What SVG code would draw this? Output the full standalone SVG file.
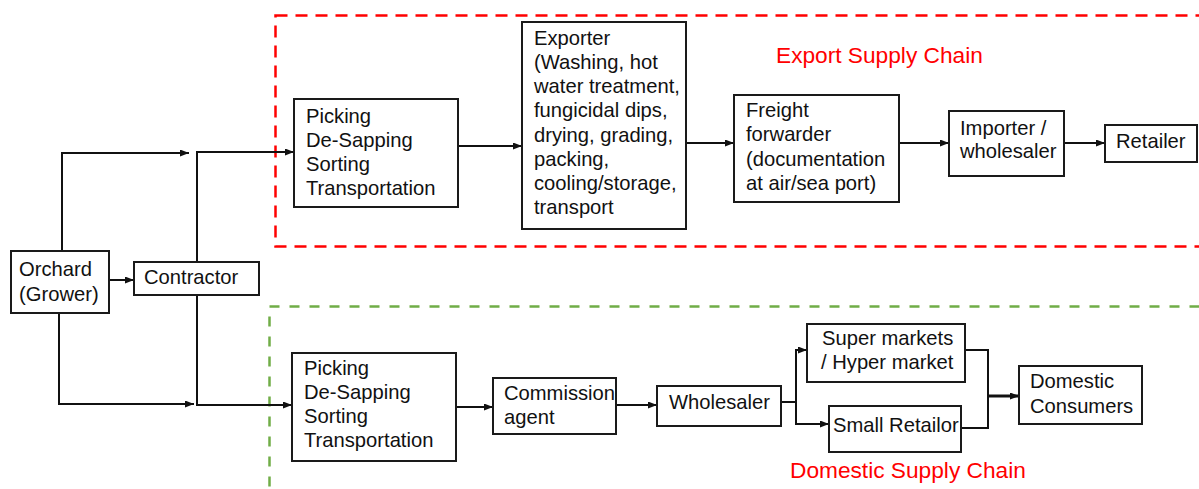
<svg xmlns="http://www.w3.org/2000/svg" width="1199" height="489" viewBox="0 0 1199 489">
  <defs>
    <style>
      .box { fill: #ffffff; stroke: #1a1a1a; stroke-width: 2; }
      .lbl { font-family: "Liberation Sans", Arial, sans-serif; font-size: 20.2px; fill: #111111; }
      .chain { font-family: "Liberation Sans", Arial, sans-serif; font-size: 22.7px; fill: #ff0000; }
      .wire { fill: none; stroke: #111111; stroke-width: 2; }
      .arrow { fill: none; stroke: #111111; stroke-width: 2; marker-end: url(#head); }
      .zone-export { fill: none; stroke: #ff0000; stroke-width: 2.5; stroke-dasharray: 12 8; }
      .zone-domestic { fill: none; stroke: #70ad47; stroke-width: 2.5; stroke-dasharray: 10 10; }
    </style>
    <marker id="head" markerUnits="userSpaceOnUse" markerWidth="9" markerHeight="7" refX="9" refY="3.5" orient="auto">
      <path d="M0,0 L9,3.5 L0,7 z" fill="#111111"/>
    </marker>
  </defs>

  <rect width="1199" height="489" fill="#ffffff"/>

  <!-- supply chain zones -->
  <g id="zones">
    <rect class="zone-export" x="275.5" y="15.5" width="960" height="231"/>
    <rect class="zone-domestic" x="269.5" y="306.5" width="960" height="220"/>
    <text class="chain" x="776" y="63">Export Supply Chain</text>
    <text class="chain" x="790" y="478">Domestic Supply Chain</text>
  </g>

  <!-- connectors -->
  <g id="connectors">
    <path class="arrow" d="M62,251 V153 H189"/>
    <path class="arrow" d="M109,280 H134"/>
    <path class="arrow" d="M59,313 V404 H194"/>
    <path class="arrow" d="M197,262 V152 H294"/>
    <path class="arrow" d="M197,295 V405 H292"/>
    <path class="arrow" d="M458,146 H522"/>
    <path class="arrow" d="M686,143 H734"/>
    <path class="arrow" d="M899,143 H949"/>
    <path class="arrow" d="M1064,143 H1105"/>
    <path class="arrow" d="M456,407 H493"/>
    <path class="arrow" d="M616,405 H657"/>
    <path class="wire" d="M781,402 H796"/>
    <path class="wire" d="M796,350 V424"/>
    <path class="arrow" d="M795,350 H807"/>
    <path class="arrow" d="M795,424 H829"/>
    <path class="wire" d="M963,350 H988 V397"/>
    <path class="wire" d="M958,428 H988 V396"/>
    <path class="arrow" d="M987,396 H1019" style="stroke-width:3"/>
  </g>

  <g id="orchard">
    <rect class="box" x="11" y="251" width="98" height="62"/>
    <text class="lbl" x="19" y="276">Orchard</text>
    <text class="lbl" x="19" y="301">(Grower)</text>
  </g>

  <g id="contractor">
    <rect class="box" x="134" y="262" width="125" height="33"/>
    <text class="lbl" x="144" y="284">Contractor</text>
  </g>

  <g id="export-picking">
    <rect class="box" x="294" y="99" width="164" height="108"/>
    <text class="lbl" x="306" y="123">Picking</text>
    <text class="lbl" x="306" y="147">De-Sapping</text>
    <text class="lbl" x="306" y="171">Sorting</text>
    <text class="lbl" x="306" y="195">Transportation</text>
  </g>

  <g id="exporter">
    <rect class="box" x="522" y="22" width="164" height="207"/>
    <text class="lbl" x="534" y="45">Exporter</text>
    <text class="lbl" x="534" y="69">(Washing, hot</text>
    <text class="lbl" x="534" y="93">water treatment,</text>
    <text class="lbl" x="534" y="117">fungicidal dips,</text>
    <text class="lbl" x="534" y="142">drying, grading,</text>
    <text class="lbl" x="534" y="166">packing,</text>
    <text class="lbl" x="534" y="190">cooling/storage,</text>
    <text class="lbl" x="534" y="214">transport</text>
  </g>

  <g id="freight-forwarder">
    <rect class="box" x="734" y="95" width="165" height="107"/>
    <text class="lbl" x="746" y="117">Freight</text>
    <text class="lbl" x="746" y="141">forwarder</text>
    <text class="lbl" x="746" y="166">(documentation</text>
    <text class="lbl" x="746" y="190">at air/sea port)</text>
  </g>

  <g id="importer">
    <rect class="box" x="949" y="111" width="115" height="65"/>
    <text class="lbl" x="960" y="135">Importer /</text>
    <text class="lbl" x="960" y="158">wholesaler</text>
  </g>

  <g id="retailer">
    <rect class="box" x="1105" y="125" width="92" height="37"/>
    <text class="lbl" x="1116" y="148">Retailer</text>
  </g>

  <g id="domestic-picking">
    <rect class="box" x="292" y="353" width="164" height="108"/>
    <text class="lbl" x="304" y="375">Picking</text>
    <text class="lbl" x="304" y="399">De-Sapping</text>
    <text class="lbl" x="304" y="423">Sorting</text>
    <text class="lbl" x="304" y="447">Transportation</text>
  </g>

  <g id="commission-agent">
    <rect class="box" x="493" y="378" width="123" height="56"/>
    <text class="lbl" x="504" y="400">Commission</text>
    <text class="lbl" x="504" y="424">agent</text>
  </g>

  <g id="wholesaler">
    <rect class="box" x="657" y="386" width="124" height="40"/>
    <text class="lbl" x="669" y="409">Wholesaler</text>
  </g>

  <g id="super-markets">
    <rect class="box" x="807" y="324" width="158" height="58"/>
    <text class="lbl" x="822" y="345">Super markets</text>
    <text class="lbl" x="821" y="369">/ Hyper market</text>
  </g>

  <g id="small-retailor">
    <rect class="box" x="829" y="406" width="132" height="46"/>
    <text class="lbl" x="833" y="432">Small Retailor</text>
  </g>

  <g id="domestic-consumers">
    <rect class="box" x="1019" y="366" width="123" height="58"/>
    <text class="lbl" x="1030" y="388">Domestic</text>
    <text class="lbl" x="1030" y="413">Consumers</text>
  </g>
</svg>
